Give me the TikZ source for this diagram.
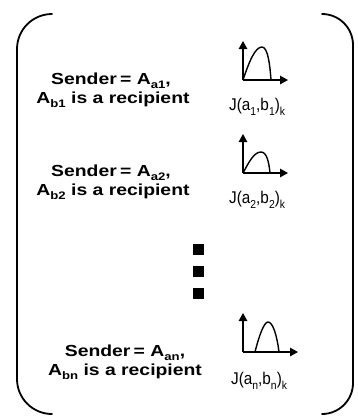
\documentclass[tikz,border=0pt]{standalone}
\usepackage{fontspec}
\setmainfont{Liberation Sans}
\usetikzlibrary{arrows.meta}
% lowered, reduced index as in A_{b1}
\newcommand\lowsub[1]{\raisebox{-0.3em}{\scalebox{0.68}{#1}}}
% wide bold caption line
\newcommand\wideline[1]{\scalebox{1.21}[1]{#1}}
% narrow index label under each plot
\newcommand\narrowline[1]{\scalebox{0.9}[1]{#1}}
\tikzset{
  bracketline/.style={line width=1.8pt, line cap=round},
  caption/.style={anchor=base, inner sep=0pt,
    font=\fontsize{16}{18}\selectfont\bfseries},
  jlabel/.style={anchor=base west, inner sep=0pt,
    font=\fontsize{17}{20}\selectfont},
  axisline/.style={line width=1.4pt, -{Triangle[length=8pt,width=8.5pt]}},
  hump/.style={line width=1.4pt},
  dotmark/.style={fill=black, draw=none, minimum size=11pt, inner sep=0pt}
}
\begin{document}
\begin{tikzpicture}[x=1pt,y=-1pt]
\useasboundingbox (0,0) rectangle (357,416);

% outer bracket frame
\draw[bracketline, rounded corners=35pt] (52,14) -- (17,14) -- (17,414) -- (52,414);
\draw[bracketline, rounded corners=31pt] (322,14) -- (353,14) -- (353,414) -- (322,414);

% ---- first pair ----
\node[caption] (s1) at (111,84) {\wideline{Sender\,= A\lowsub{a1},}};
\node[caption] (r1) at (113,103) {\wideline{A\lowsub{b1} is a recipient}};
\coordinate (o1) at (243,80);
\coordinate (y1) at (243,41);
\coordinate (x1) at (288,80);
\draw[axisline] (o1) -- (y1);
\draw[axisline] (o1) -- (x1);
\draw[hump] (o1) .. controls (249,62) and (255,47) .. (262,47)
                 .. controls (268,47) and (270,66) .. (271,80);
\node[jlabel] (j1) at (229,110) {\narrowline{J(a\lowsub{1},b\lowsub{1})\lowsub{k}}};

% ---- second pair ----
\node[caption] (s2) at (111,176) {\wideline{Sender\,= A\lowsub{a2},}};
\node[caption] (r2) at (113,195) {\wideline{A\lowsub{b2} is a recipient}};
\coordinate (o2) at (243,173);
\coordinate (y2) at (243,134);
\coordinate (x2) at (288,173);
\draw[axisline] (o2) -- (y2);
\draw[axisline] (o2) -- (x2);
\draw[hump] (o2) .. controls (249,162) and (254,152) .. (261,152)
                 .. controls (267,152) and (269,163) .. (270,173);
\node[jlabel] (j2) at (229,203) {\narrowline{J(a\lowsub{2},b\lowsub{2})\lowsub{k}}};

% ---- ellipsis ----
\node[dotmark] (d1) at (198,249) {};
\node[dotmark] (d2) at (198,271) {};
\node[dotmark] (d3) at (198,293) {};

% ---- last pair ----
\node[caption] (s3) at (125,356) {\wideline{Sender\,= A\lowsub{an},}};
\node[caption] (r3) at (125,375) {\wideline{A\lowsub{bn} is a recipient}};
\coordinate (o3) at (243,352);
\coordinate (y3) at (243,313);
\coordinate (x3) at (298,352);
\coordinate (h3) at (255,352);
\coordinate (e3) at (279,352);
\draw[axisline] (o3) -- (y3);
\draw[axisline] (o3) -- (x3);
\draw[hump] (h3) .. controls (259,336) and (264,322) .. (268,322)
                 .. controls (273,322) and (277,336) .. (e3);
\node[jlabel] (j3) at (231,384) {\narrowline{J(a\lowsub{n},b\lowsub{n})\lowsub{k}}};
\end{tikzpicture}
\end{document}
